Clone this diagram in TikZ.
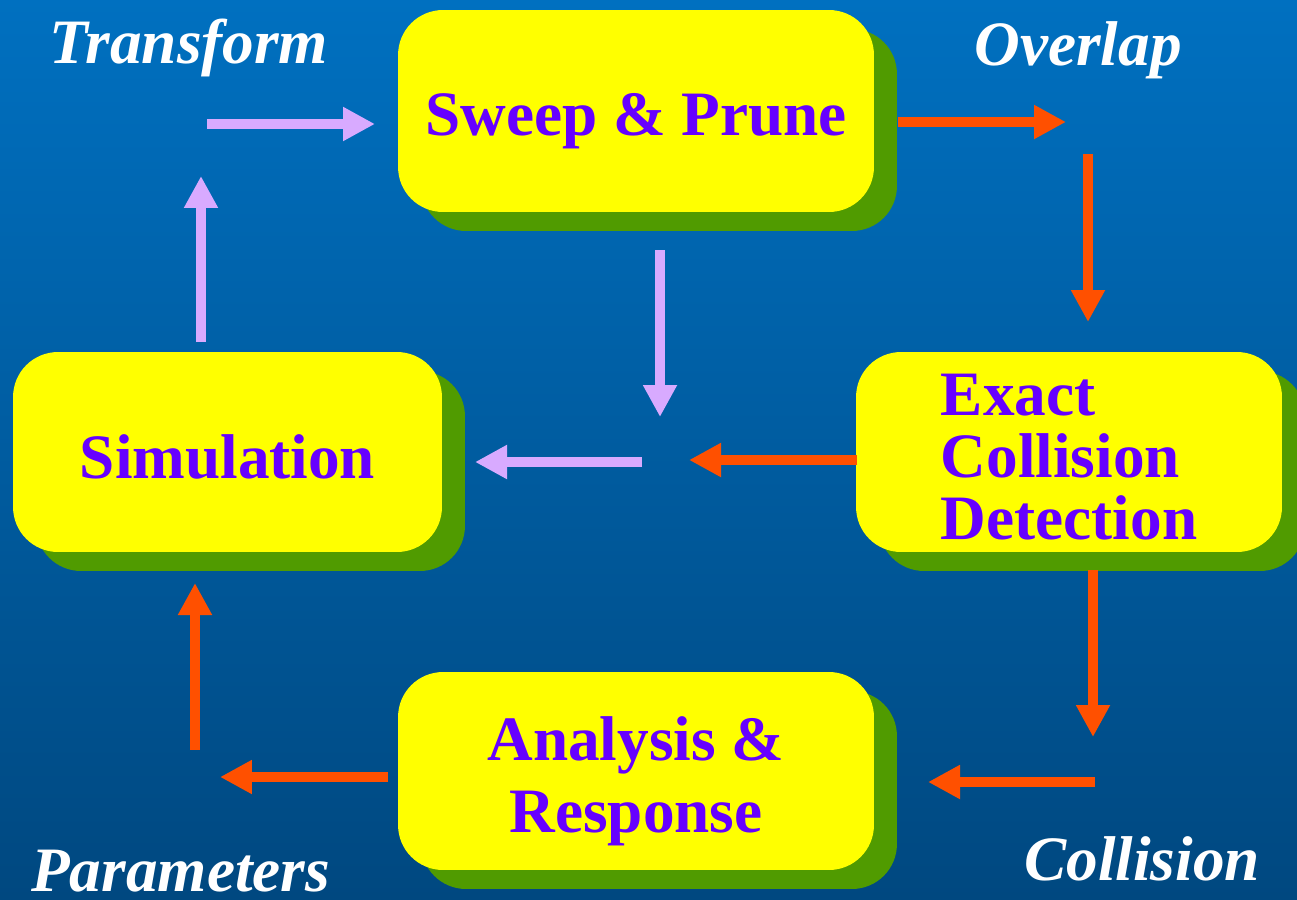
\documentclass[tikz,border=0pt]{standalone}
\usepackage{fontspec}
\setmainfont{Liberation Serif}
\usetikzlibrary{arrows.meta,shadows}
\definecolor{bgtop}{RGB}{0,112,192}
\definecolor{bgbot}{RGB}{0,72,128}
\definecolor{boxyellow}{RGB}{255,255,0}
\definecolor{shadowgreen}{RGB}{80,155,0}
\definecolor{txtpurple}{RGB}{102,0,255}
\definecolor{lav}{RGB}{216,170,255}
\definecolor{orng}{RGB}{255,80,0}
\tikzset{
  stagebox/.style={fill=boxyellow, rounded corners=0.9cm, inner sep=0pt,
    drop shadow={shadow xshift=0.46cm, shadow yshift=-0.38cm, fill=shadowgreen, opacity=1}},
  boxtext/.style={font=\bfseries\fontsize{36}{35.2}\selectfont, text=txtpurple, align=center, inner sep=0pt},
  flowlabel/.style={font=\bfseries\itshape\fontsize{36}{36}\selectfont, text=white, inner sep=0pt, anchor=base west},
  fatarrow/.style={line width=0.2cm, -{Triangle[length=0.64cm, width=0.64cm]}},
  lavarrow/.style={fatarrow, draw=lav},
  orarrow/.style={fatarrow, draw=orng},
}
\begin{document}
\begin{tikzpicture}[x=0.02cm, y=-0.02cm]
\shade[top color=bgtop, bottom color=bgbot] (0,0) rectangle (1297,899);
\useasboundingbox (0,0) rectangle (1297,899);

\node[stagebox, minimum width=9.52cm, minimum height=4.04cm] (sweep) at (636,111) {};
\node[stagebox, minimum width=8.58cm, minimum height=4cm] (sim) at (227.5,452) {};
\node[stagebox, minimum width=8.52cm, minimum height=4cm] (exact) at (1069,452) {};
\node[stagebox, minimum width=9.52cm, minimum height=3.96cm] (anal) at (636,771) {};

\node[boxtext] (sweeptext) at ([yshift=-0.2cm]sweep.center) {Sweep \& Prune};
\node[boxtext] (simtext) at ([yshift=-0.1cm]sim.center) {Simulation};
\node[boxtext, align=left] (exacttext) at ([yshift=-0.1cm]exact.center) {Exact\\Collision\\Detection};
\node[boxtext, font=\bfseries\fontsize{36}{40.8}\selectfont] (analtext) at ([yshift=-0.2cm]anal.center) {Analysis \&\\Response};

\node[flowlabel] (ltrans) at (49,63) {Transform};
\node[flowlabel] (lover) at (974,65) {Overlap};
\node[flowlabel] (lparam) at (31,891) {Parameters};
\node[flowlabel] (lcoll) at (1024,880) {Collision};

% coordinates for arrow ends
\coordinate (a1s) at (207,124);  \coordinate (a1e) at (375,124);
\coordinate (a2s) at (201,342);  \coordinate (a2e) at (201,176);
\coordinate (a3s) at (660,250);  \coordinate (a3e) at (660,417);
\coordinate (a4s) at (642,462);  \coordinate (a4e) at (475,462);
\coordinate (a5s) at (898,122);  \coordinate (a5e) at (1066,122);
\coordinate (a6s) at (1088,154); \coordinate (a6e) at (1088,322);
\coordinate (a7s) at (857,460);  \coordinate (a7e) at (689,460);
\coordinate (a8s) at (1093,570); \coordinate (a8e) at (1093,737);
\coordinate (a9s) at (1095,782); \coordinate (a9e) at (928,782);
\coordinate (a10s) at (388,777); \coordinate (a10e) at (220,777);
\coordinate (a11s) at (195,750); \coordinate (a11e) at (195,583);

\draw[lavarrow] (a1s) -- (a1e);
\draw[lavarrow] (a2s) -- (a2e);
\draw[lavarrow] (a3s) -- (a3e);
\draw[lavarrow] (a4s) -- (a4e);
\draw[orarrow] (a5s) -- (a5e);
\draw[orarrow] (a6s) -- (a6e);
\draw[orarrow] (a7s) -- (a7e);
\draw[orarrow] (a8s) -- (a8e);
\draw[orarrow] (a9s) -- (a9e);
\draw[orarrow] (a10s) -- (a10e);
\draw[orarrow] (a11s) -- (a11e);
\end{tikzpicture}
\end{document}
